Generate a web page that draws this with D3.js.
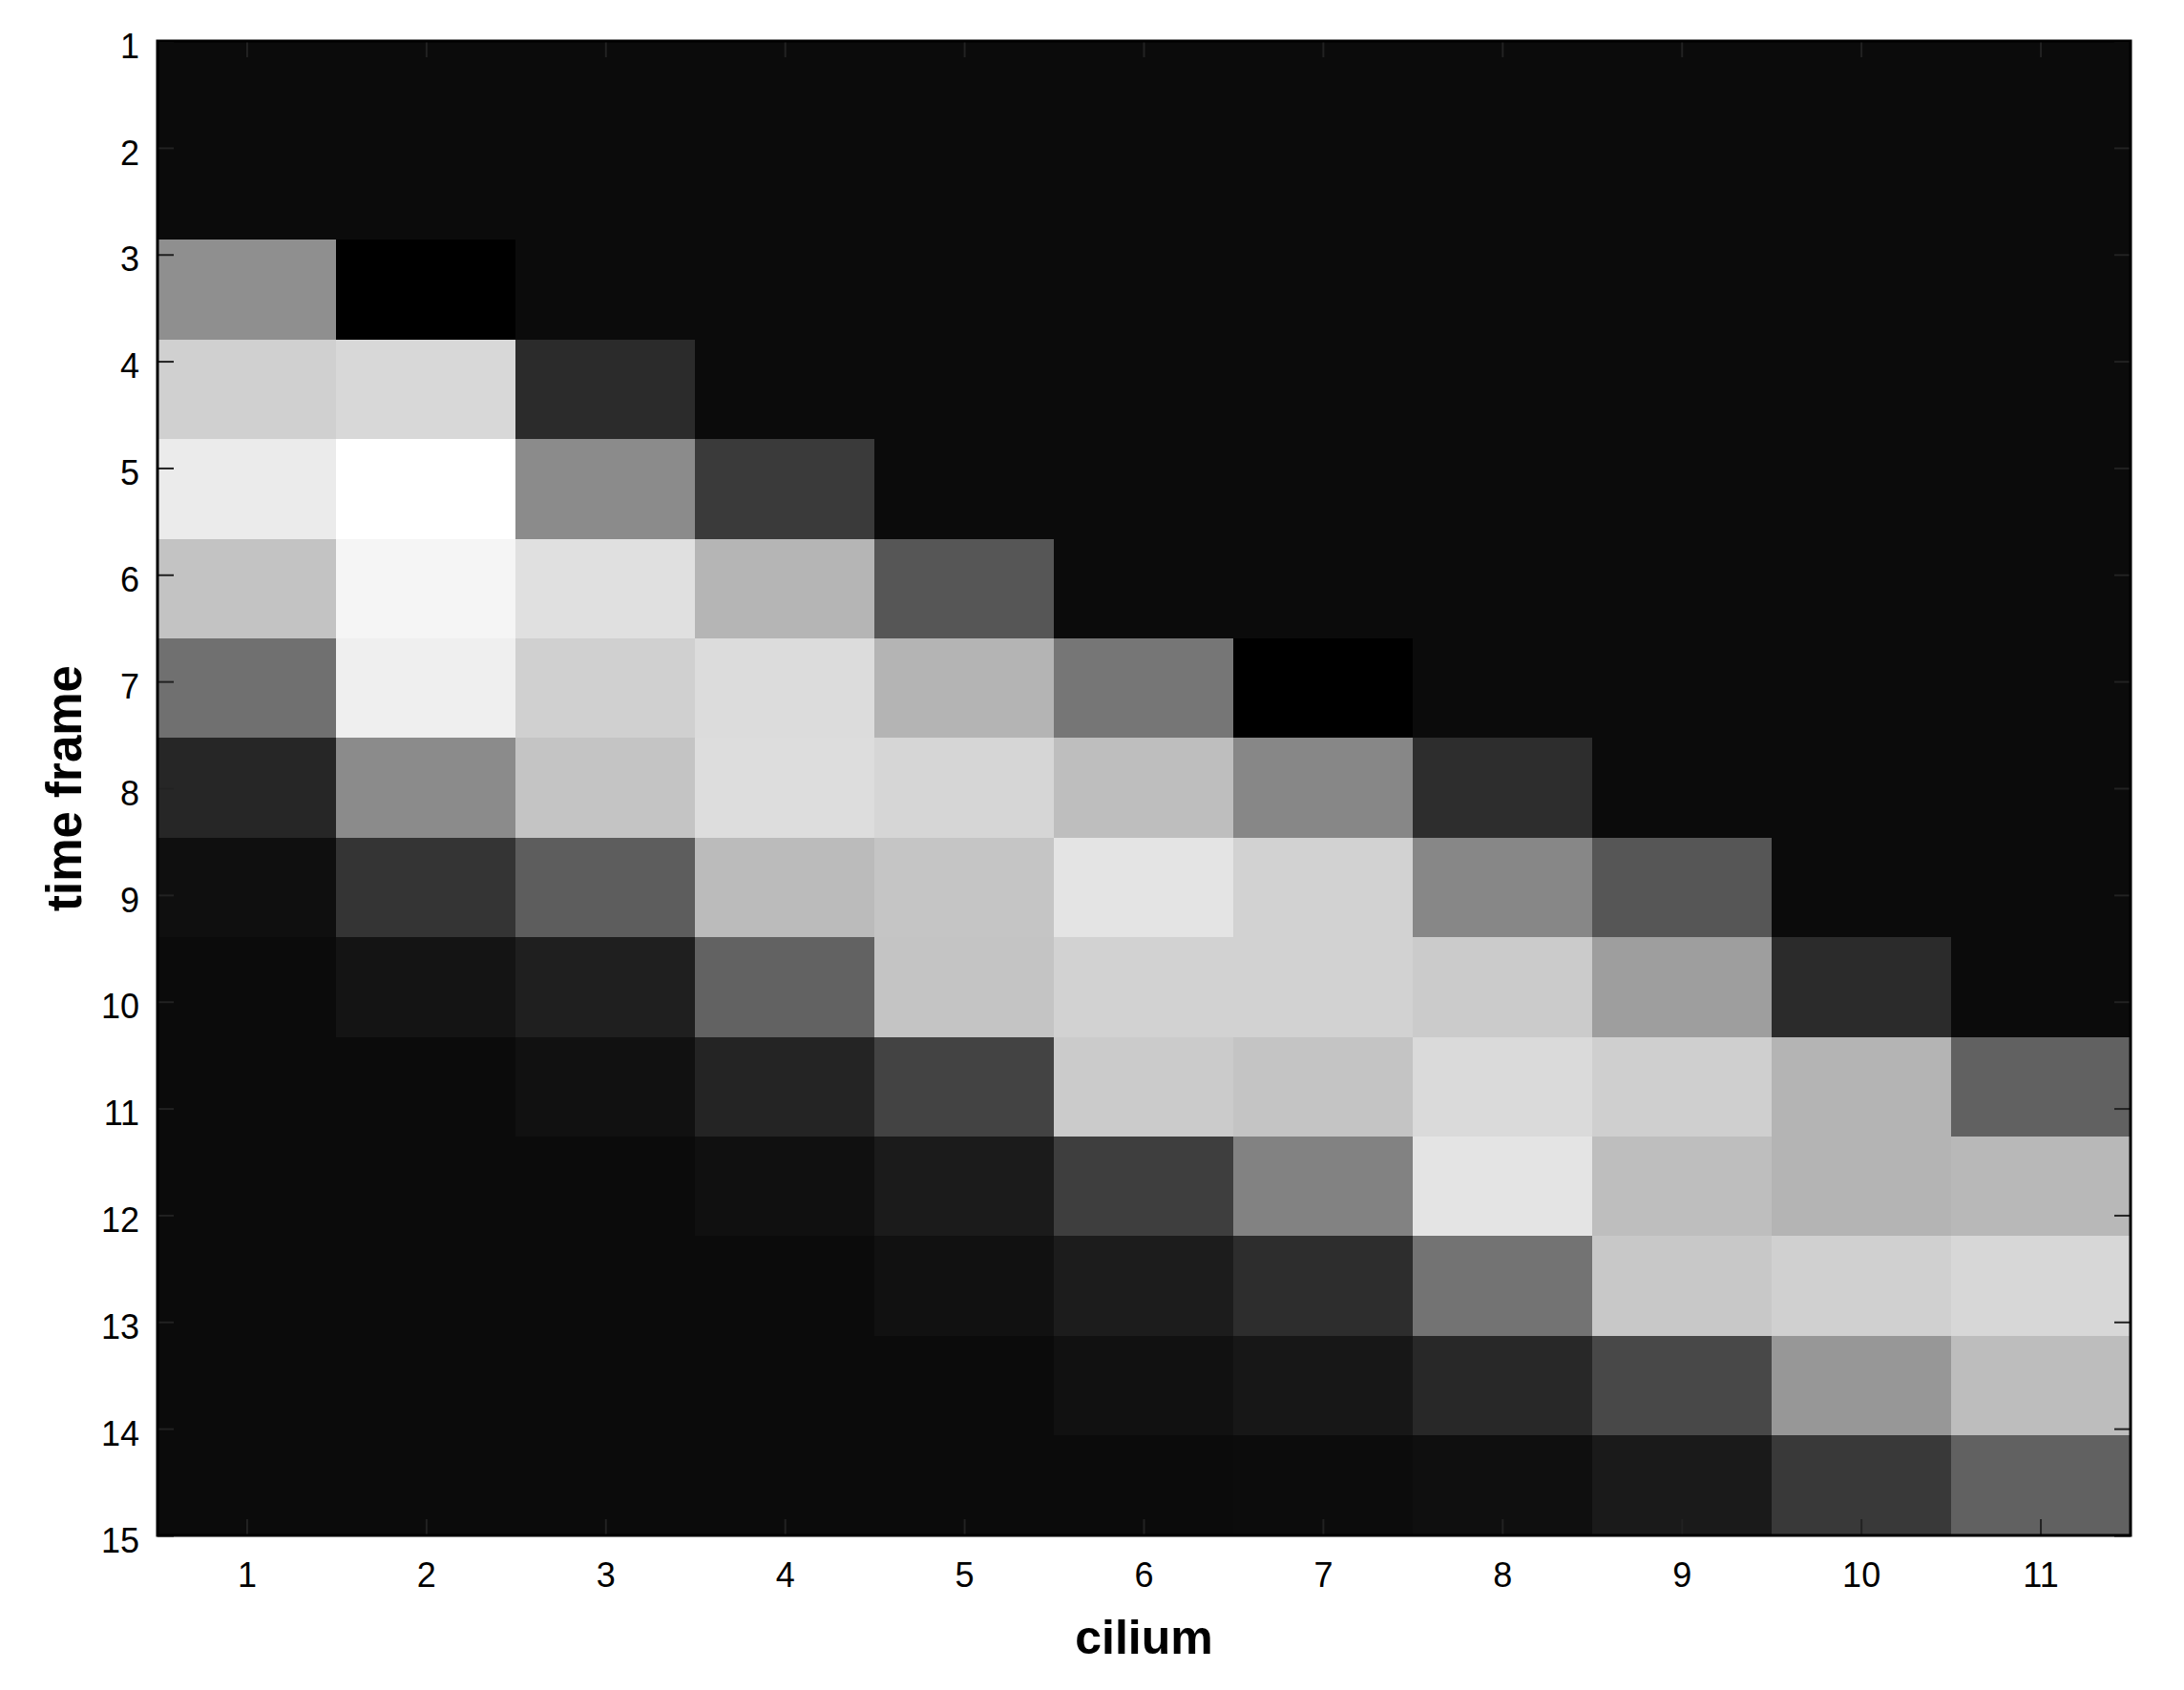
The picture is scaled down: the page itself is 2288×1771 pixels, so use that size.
<!DOCTYPE html>
<html>
<head>
<meta charset="utf-8">
<script src="https://cdn.jsdelivr.net/npm/d3@7"></script>
<style>
  body { margin: 0; background: #fff; }
  svg text { font-family: "Liberation Sans", Arial, sans-serif; fill: #000; }
</style>
</head>
<body>
<svg id="chart" width="2288" height="1771"></svg>
<script>
// cilium along x, time frame along y
var cilia = [1, 2, 3, 4, 5, 6, 7, 8, 9, 10, 11];
var frames = [1, 2, 3, 4, 5, 6, 7, 8, 9, 10, 11, 12, 13, 14, 15];

// gray level (0 = black, 255 = white), one row per time frame
var intensity = [
  [11, 11, 11, 11, 11, 11, 11, 11, 11, 11, 11],
  [11, 11, 11, 11, 11, 11, 11, 11, 11, 11, 11],
  [143, 0, 11, 11, 11, 11, 11, 11, 11, 11, 11],
  [208, 216, 43, 11, 11, 11, 11, 11, 11, 11, 11],
  [235, 255, 139, 58, 11, 11, 11, 11, 11, 11, 11],
  [195, 245, 224, 181, 86, 11, 11, 11, 11, 11, 11],
  [112, 239, 208, 220, 180, 118, 0, 11, 11, 11, 11],
  [38, 139, 196, 221, 214, 190, 135, 45, 11, 11, 11],
  [15, 52, 93, 187, 197, 228, 210, 135, 86, 11, 11],
  [11, 20, 31, 98, 196, 210, 210, 203, 158, 43, 11],
  [11, 11, 17, 36, 67, 203, 196, 218, 207, 180, 97],
  [11, 11, 11, 16, 27, 62, 130, 228, 190, 180, 184],
  [11, 11, 11, 11, 17, 28, 45, 115, 200, 208, 215],
  [11, 11, 11, 11, 11, 17, 23, 40, 72, 151, 189],
  [11, 11, 11, 11, 11, 11, 12, 15, 26, 57, 97]
];

var x0 = 165, x1 = 2232, y0 = 43, y1 = 1609;
var tickLen = 17;

var svg = d3.select('#chart');

var x = d3.scaleBand().domain(cilia).range([x0, x1]);
var yCell = d3.scaleBand().domain(frames).range([y0, y1]);
// the tick labels are spread edge to edge, not on the cell centres
var yTick = d3.scaleLinear().domain([1, 15]).range([y0, y1]);
var gray = d3.scaleLinear().domain([0, 255]).range(['#000', '#fff']);

var cells = [];
intensity.forEach(function(row, i) {
  row.forEach(function(v, j) {
    cells.push({frame: frames[i], cilium: cilia[j], value: v});
  });
});

svg.append('g')
  .attr('shape-rendering', 'crispEdges')
  .selectAll('rect')
  .data(cells)
  .enter().append('rect')
  .attr('x', function(d) { return Math.floor(x(d.cilium)); })
  .attr('y', function(d) { return Math.floor(yCell(d.frame)); })
  .attr('width', Math.ceil(x.bandwidth()) + 1)
  .attr('height', Math.ceil(yCell.bandwidth()) + 1)
  .attr('fill', function(d) { return gray(d.value); });

// axes, ticks pointing inward
var axLeft = svg.append('g').attr('transform', 'translate(' + x0 + ',0)')
  .call(d3.axisLeft(yTick).tickValues(frames).tickSize(-tickLen).tickPadding(19));
var axRight = svg.append('g').attr('transform', 'translate(' + x1 + ',0)')
  .call(d3.axisRight(yTick).tickValues(frames).tickSize(-tickLen).tickFormat(''));
var axBottom = svg.append('g').attr('transform', 'translate(0,' + y1 + ')')
  .call(d3.axisBottom(x).tickSize(-tickLen).tickPadding(28));
var axTop = svg.append('g').attr('transform', 'translate(0,' + y0 + ')')
  .call(d3.axisTop(x).tickSize(-tickLen).tickFormat(''));

[axLeft, axRight, axBottom, axTop].forEach(function(g) {
  g.select('.domain').remove();
  g.selectAll('.tick line').attr('stroke', '#222').attr('stroke-width', 2);
  g.selectAll('.tick text').attr('font-size', 36).attr('font-family', '"Liberation Sans", Arial, sans-serif');
});
axLeft.selectAll('.tick text').attr('dy', '0.48em');

// frame
svg.append('rect')
  .attr('x', x0).attr('y', y0)
  .attr('width', x1 - x0).attr('height', y1 - y0)
  .attr('fill', 'none').attr('stroke', '#000').attr('stroke-width', 3);

svg.append('text')
  .attr('x', (x0 + x1) / 2).attr('y', 1733)
  .attr('text-anchor', 'middle')
  .attr('font-size', 50).attr('font-weight', 'bold')
  .text('cilium');

svg.append('text')
  .attr('transform', 'translate(85,' + (y0 + y1) / 2 + ') rotate(-90)')
  .attr('text-anchor', 'middle')
  .attr('font-size', 51).attr('font-weight', 'bold')
  .text('time frame');
</script>
</body>
</html>
